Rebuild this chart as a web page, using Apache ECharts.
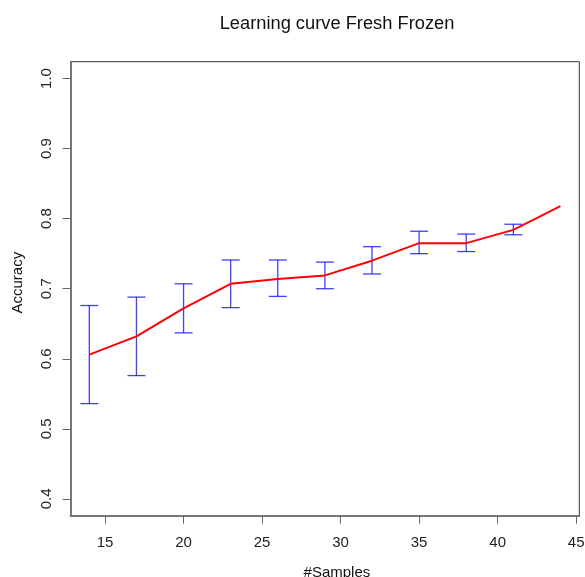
<!DOCTYPE html>
<html>
<head>
<meta charset="utf-8">
<script src="https://cdn.jsdelivr.net/npm/echarts@6/dist/echarts.min.js"></script>
<style>
  html, body { margin: 0; padding: 0; background: #fff; }
  #curve { width: 585px; height: 577px; }
</style>
</head>
<body>
<div id="curve"></div>
<script>
  // values
  var samples = [14, 17, 20, 23, 26, 29, 32, 35, 38, 41, 44]
  var accuracy = [0.606, 0.632, 0.672, 0.707, 0.714, 0.719, 0.740, 0.765, 0.765, 0.784, 0.818]
  var errSamples = [14, 17, 20, 23, 26, 29, 32, 35, 38, 41]
  var errLow = [0.536, 0.576, 0.637, 0.673, 0.689, 0.700, 0.721, 0.750, 0.753, 0.777]
  var errHigh = [0.676, 0.688, 0.707, 0.741, 0.741, 0.738, 0.760, 0.782, 0.778, 0.792]
  var xTicks = [15, 20, 25, 30, 35, 40, 45]
  var yTicks = [0.4, 0.5, 0.6, 0.7, 0.8, 0.9, 1.0]

  var font = 'Liberation Sans, Arial, sans-serif'
  var chart = echarts.init(document.getElementById('curve'))

  var lineData = samples.map(function (s, i) { return [s, accuracy[i]] })
  var errData = errSamples.map(function (s, i) { return [s, errLow[i], errHigh[i]] })

  chart.setOption({
    animation: false,
    title: {
      text: 'Learning curve Fresh Frozen',
      left: 332,
      top: 10,
      textAlign: 'center',
      textStyle: { fontFamily: font, fontSize: 18.3, fontWeight: 'normal', color: '#111' }
    },
    grid: {
      left: 70.5, top: 61.7, width: 508.8, height: 454,
      outerBoundsMode: 'none',
      containLabel: false,
      show: true, borderColor: '#333', borderWidth: 1, backgroundColor: 'transparent'
    },
    xAxis: {
      type: 'value',
      min: 12.8,
      max: 45.2,
      name: '#Samples',
      nameLocation: 'middle',
      nameGap: 49.5,
      nameTextStyle: { fontFamily: font, fontSize: 15, color: '#111', padding: [0, 0, 0, 24] },
      splitLine: { show: false },
      axisLine: { show: true, onZero: false, lineStyle: { color: '#777', width: 2 } },
      axisTick: { show: true, length: 8, customValues: xTicks, lineStyle: { color: '#666' } },
      axisLabel: {
        customValues: xTicks, margin: 19.5,
        fontFamily: font, fontSize: 15, color: '#222'
      }
    },
    yAxis: {
      type: 'value',
      min: 0.376,
      max: 1.024,
      name: 'Accuracy',
      nameLocation: 'middle',
      nameGap: 45.5,
      nameTextStyle: { fontFamily: font, fontSize: 15, color: '#111', padding: [0, 0, 0, 12] },
      splitLine: { show: false },
      axisLine: { show: true, onZero: false, lineStyle: { color: '#777', width: 2 } },
      axisTick: { show: true, length: 8, customValues: yTicks, lineStyle: { color: '#666' } },
      axisLabel: {
        customValues: yTicks, rotate: 90, margin: 16,
        fontFamily: font, fontSize: 15, color: '#222',
        formatter: function (v) { return v.toFixed(1) }
      }
    },
    series: [
      {
        type: 'custom',
        data: errData,
        z: 2,
        renderItem: function (params, api) {
          var x = api.value(0)
          var lo = api.coord([x, api.value(1)])
          var hi = api.coord([x, api.value(2)])
          var cap = 9
          var style = { stroke: 'rgba(0,0,255,0.75)', lineWidth: 1.3 }
          return {
            type: 'group',
            children: [
              { type: 'line', shape: { x1: lo[0], y1: lo[1], x2: hi[0], y2: hi[1] }, style: style },
              { type: 'line', shape: { x1: lo[0] - cap, y1: lo[1], x2: lo[0] + cap, y2: lo[1] }, style: style },
              { type: 'line', shape: { x1: hi[0] - cap, y1: hi[1], x2: hi[0] + cap, y2: hi[1] }, style: style }
            ]
          }
        }
      },
      {
        type: 'line',
        data: lineData,
        z: 3,
        symbol: 'none',
        lineStyle: { color: '#ff0000', width: 2 }
      }
    ]
  })
</script>
</body>
</html>
